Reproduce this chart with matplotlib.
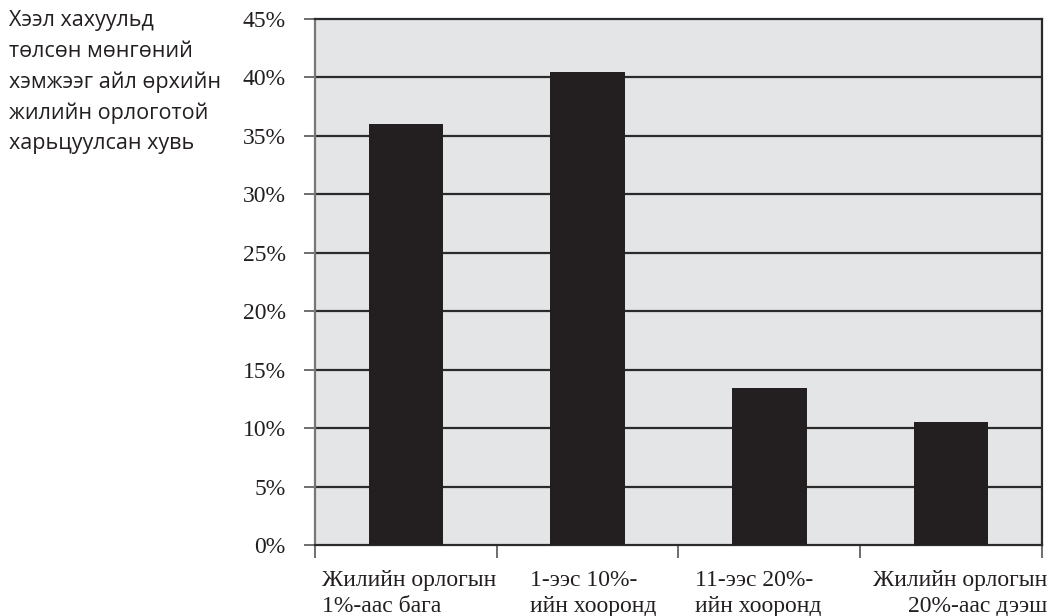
import matplotlib
matplotlib.use("Agg")
import matplotlib.pyplot as plt
from matplotlib.ticker import FixedLocator, NullFormatter

# data
categories = [
    "Жилийн орлогын\n1%-аас бага",
    "1-ээс 10%-\nийн хооронд",
    "11-ээс 20%-\nийн хооронд",
    "Жилийн орлогын\n20%-аас дээш",
]
shares = [36.0, 40.5, 13.4, 10.5]
y_ticks = [0, 5, 10, 15, 20, 25, 30, 35, 40, 45]
side_note = "Хээл хахуульд\nтөлсөн мөнгөний\nхэмжээг айл өрхийн\nжилийн орлоготой\nхарьцуулсан хувь"

serif = "Liberation Serif"

fig = plt.figure(figsize=(10.49, 6.16), dpi=100)
ax = fig.add_axes([0.3003, 0.1153, 0.6930, 0.8539])
ax.set_facecolor("#e4e5e7")

x = range(len(shares))
ax.bar(x, shares, width=0.41, color="#231f20", zorder=3)

ax.set_xlim(-0.5, len(shares) - 0.5)
ax.set_ylim(0, 45)
ax.set_yticks(y_ticks)
ax.set_yticklabels([f"{t}%" for t in y_ticks])
for t in y_ticks[1:-1]:
    ax.axhline(t, color="#2b2b2b", lw=1.6, zorder=2)

ax.xaxis.set_major_locator(FixedLocator([-0.5, 0.5, 1.5, 2.5, 3.5]))
ax.xaxis.set_major_formatter(NullFormatter())
ax.tick_params(axis="x", length=9, width=1.2, color="#555555")
ax.tick_params(axis="y", length=8, width=1.2, color="#555555", pad=13,
               labelsize=17, labelfontfamily=serif, labelcolor="#231f20")

for side in ["top", "right", "bottom"]:
    ax.spines[side].set_color("#2b2b2b")
    ax.spines[side].set_linewidth(1.6)
ax.spines["left"].set_color("#777777")
ax.spines["left"].set_linewidth(1.6)

# category labels, placed like the original
label_pos = [(-0.463, "left"), (0.683, "left"), (1.591, "left"), (3.527, "right")]
for lab, (px, ha) in zip(categories, label_pos):
    ax.text(px, -0.047, lab, transform=ax.get_xaxis_transform(), ha=ha, va="top",
            multialignment=ha, fontfamily=serif, fontsize=17, linespacing=1.32,
            color="#231f20")

fig.text(0.009, 0.983, side_note, ha="left", va="top", fontfamily="Open Sans",
         fontsize=15.5, linespacing=1.58, color="#231f20")

fig.savefig("out.png", dpi=100)
